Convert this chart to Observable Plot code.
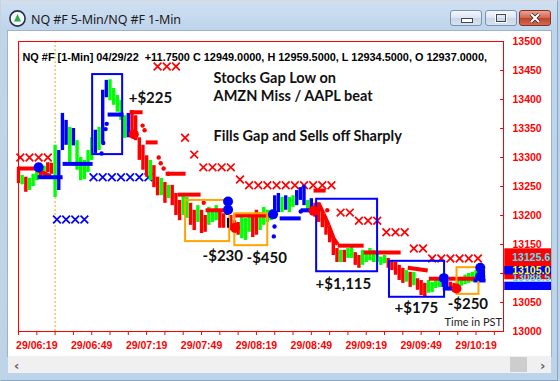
<!DOCTYPE html>
<html>
<head>
<meta charset="utf-8">
<script src="https://cdn.jsdelivr.net/npm/d3@7"></script>
<script src="https://cdn.jsdelivr.net/npm/@observablehq/plot@0.6"></script>
<style>
  html,body{margin:0;padding:0;}
  body{width:560px;height:381px;overflow:hidden;position:relative;background:#bcd3ea;font-family:"Noto Sans",sans-serif;}
  #win{position:absolute;left:0;top:0;width:556px;height:379px;background:linear-gradient(#cfdff1,#bfd5ec 28px,#bcd3ea);border:1px solid #8aa4c0;border-top-color:#d9d9d9;border-left-color:#c8d2dc;}
  #title{position:absolute;left:31px;top:11px;font-size:12.5px;color:#1b1b1b;letter-spacing:-0.1px;}
  .btn{position:absolute;top:10px;height:14px;border:1px solid #7a93ae;border-radius:3px;background:linear-gradient(#f2f6fb,#dbe5f1 50%,#c9d7e8 51%,#d6e2ef);box-sizing:content-box;}
  #content{position:absolute;left:8px;top:31px;width:543px;height:325px;background:#fff;outline:1px solid #9db3ca;}
  #scroll{position:absolute;left:8px;top:356px;width:543px;height:17px;background:#f0f0f0;}
  #thumb{position:absolute;left:502px;top:1px;width:17px;height:15px;background:#cdcdcd;}
</style>
</head>
<body>
<div id="win"></div>
<svg style="position:absolute;left:9px;top:10px" width="17" height="17" viewBox="0 0 17 17">
  <circle cx="8.5" cy="8.5" r="7.6" fill="#f4f6f8" stroke="#24324d" stroke-width="1.6"/>
  <path d="M8.5 4 L12 11.5 L5 11.5 Z" fill="#2fa84a"/>
</svg>
<div id="title">NQ #F 5-Min/NQ #F 1-Min</div>
<div class="btn" style="left:450px;width:30px;"><div style="position:absolute;left:10px;top:7px;width:10px;height:3px;background:#fff;border:1px solid #445;"></div></div>
<div class="btn" style="left:485px;width:30px;"><div style="position:absolute;left:10px;top:3px;width:8px;height:6px;border:1px solid #445;outline:1px solid #fff;"></div></div>
<div class="btn" style="left:519px;width:30px;border-color:#8b2f22;background:linear-gradient(#e9a394,#d2654f 50%,#c0432c 51%,#cf6a52);">
  <svg width="30" height="14" style="position:absolute;left:0;top:0"><path d="M11 3 L19 11 M19 3 L11 11" stroke="#3a1a14" stroke-width="3.6"/><path d="M11 3 L19 11 M19 3 L11 11" stroke="#fff" stroke-width="2.2"/></svg>
</div>
<div id="content"></div>
<div id="scroll">
  <div style="position:absolute;left:6px;top:2px;font:bold 13px 'DejaVu Sans';color:#606060;">&#8249;</div>
  <div id="thumb"></div>
  <div style="position:absolute;left:532px;top:2px;font:bold 13px 'DejaVu Sans';color:#606060;">&#8250;</div>
</div>
<div id="chart" style="position:absolute;left:8px;top:31px;"></div>
<script>
// ---------- data ----------
const header = "NQ #F [1-Min] 04/29/22  +11.7500 C 12949.0000, H 12959.5000, L 12934.5000, O 12937.0000,";
const xTicks = ["06:09","06:19","06:29","06:39","06:49","06:59","07:09","07:19","07:29","07:39","07:49","07:59","08:09","08:19","08:29","08:39","08:49","08:59","09:09","09:19","09:29","09:39","09:49","09:59","10:09","10:19","10:29"];
const xTickLabels = ["29/06:19","29/06:49","29/07:19","29/07:49","29/08:19","29/08:49","29/09:19","29/09:49","29/10:19"];
const yTicks = [13000,13050,13100,13150,13200,13250,13300,13350,13400,13450,13500];
const sessionOpen = "06:29";

const barTimes = ["06:09","06:11","06:13","06:15","06:17","06:19","06:21","06:23","06:25","06:27",
"06:29","06:31","06:33","06:35","06:37","06:39","06:41","06:43","06:45","06:47",
"06:49","06:51","06:53","06:55","06:57","06:59","07:01","07:03","07:05","07:07",
"07:09","07:11","07:13","07:15","07:17","07:19","07:21","07:23","07:25","07:27",
"07:29","07:31","07:33","07:35","07:37","07:39","07:41","07:43","07:45","07:47",
"07:49","07:51","07:53","07:55","07:57","07:59","08:01","08:03","08:05","08:07",
"08:09","08:11","08:13","08:15","08:17","08:19","08:21","08:23","08:25","08:27",
"08:29","08:31","08:33","08:35","08:37","08:39","08:41","08:43","08:45","08:47",
"08:49","08:51","08:53","08:55","08:57","08:59","09:01","09:03","09:05","09:07",
"09:09","09:11","09:13","09:15","09:17","09:19","09:21","09:23","09:25","09:27",
"09:29","09:31","09:33","09:35","09:37","09:39","09:41","09:43","09:45","09:47",
"09:49","09:51","09:53","09:55","09:57","09:59","10:01","10:03","10:05","10:07",
"10:09","10:11","10:13","10:15","10:17","10:19","10:21","10:23"];
const barLow = [13255,13253,13240,13243,13250,13260,13266,13267,13274,13271,
13231,13243,13312,13321,13286,13320,13278,13260,13262,13274,
13295,13307,13312,13324,13403,13398,13390,13378,13364,13333,
13334,13338,13329,13295,13278,13266,13260,13248,13234,13234,
13221,13229,13217,13200,13191,13200,13195,13183,13174,13188,
13169,13171,13183,13188,13191,13178,13178,13200,13174,13169,
13166,13160,13157,13171,13162,13166,13174,13183,13188,13191,
13200,13205,13205,13209,13205,13214,13217,13226,13217,13205,
13209,13197,13188,13179,13166,13153,13131,13119,13119,13119,
13126,13126,13114,13109,13114,13119,13122,13119,13119,13114,
13117,13109,13105,13097,13088,13083,13085,13076,13079,13071,
13062,13059,13066,13067,13074,13076,13076,13071,13071,13067,
13071,13078,13081,13083,13085,13088,13090,13088];
const barHigh = [13283,13269,13266,13264,13271,13278,13283,13285,13291,13290,
13321,13312,13376,13364,13352,13350,13329,13300,13295,13312,
13334,13347,13352,13416,13433,13434,13419,13407,13398,13372,
13376,13381,13372,13334,13321,13303,13295,13286,13266,13264,
13257,13252,13252,13238,13226,13234,13231,13221,13209,13217,
13209,13200,13214,13209,13217,13209,13203,13229,13200,13191,
13188,13200,13195,13203,13200,13209,13205,13214,13209,13209,
13234,13238,13231,13234,13231,13234,13243,13248,13252,13226,
13229,13221,13222,13205,13191,13178,13160,13143,13140,13140,
13143,13148,13136,13131,13140,13136,13143,13140,13136,13128,
13131,13126,13122,13119,13114,13109,13105,13102,13102,13091,
13088,13083,13088,13085,13091,13093,13093,13088,13085,13083,
13088,13093,13097,13100,13102,13105,13110,13105];
// r = down bar, g = up bar, b = blue-painted bar
const barState = ("rgrgggrgrr"+"gbbbgbgggg"+"gbgbbggggg"+"brrrrrgrrg"+"rgrrrggrrg"+
  "rrgggrrbrr"+"rgggrrgggg"+"bbgbggbbbg"+"brrrrrrrgr"+"ggrrgggggg"+
  "grrrrrgrgr"+"rrggggbbrr"+"ggggggbb").split("");

// trailing stop (red) segments: start/end minute of day and price
const redSegT1 = [368.5,379.4,429.7,438.5,449.4,456.0,471.2,486.5,530.2,533.0,535.7,538.5,541.2,543.4,557.6,581.7,593.2,604.1];
const redSegT2 = [379.4,386.5,436.8,445.0,460.3,468.5,483.8,508.4,536.8,535.7,538.5,541.2,543.4,557.6,577.8,592.6,601.4,619.9];
const redSegP1 = [13281,13278,13378,13326,13272,13236,13209,13200,13243,13221,13203,13183,13160,13148,13136,13110,13091,13091];
const redSegP2 = [13281,13268,13378,13326,13272,13236,13209,13200,13243,13203,13183,13160,13150,13148,13136,13105,13091,13091];
const redDotT = [436.8,437.9,445.6,446.7,448.3,451.0,470.2,537.7];
const redDotP = [13355,13347,13300,13290,13281,13272,13222,13209];
// trailing stop (blue) segments
const blueSegT1 = [379.4,393.1,417.7,511.7,523.2,600.8,617.6];
const blueSegT2 = [393.1,409.5,426.4,523.2,530.3,607.9,624.2];
const blueSegP  = [13266,13289,13374,13195,13209,13074,13088];
const blueDotT = [414.4,415.3,416.6,417.2,508.5,508.9,523.2];
const blueDotP = [13307,13325,13349,13358,13164,13181,13207];
// 5-min markers
const redXTime = [370,375,380,385,445,450,455,460,465,470,475,480,485,490,495,500,505,510,515,520,525,530,535,540,545,550,555,560,565,570,575,580,585,590,595,600,605,610,615,620];
const redXPrice = [13300,13300,13300,13300,13457,13457,13457,13334,13305,13283,13283,13283,13283,13262,13252,13252,13252,13252,13252,13252,13252,13252,13252,13252,13205,13205,13191,13191,13191,13171,13171,13171,13143,13143,13126,13126,13126,13126,13126,13126];
const blueXTime = [390,395,400,405,410,415,420,425,430,435,440];
const blueXPrice = [13193,13193,13193,13193,13266,13266,13266,13266,13266,13266,13266];
// trade entries / exits
const buyT = [380,483.5,483.5,508.1,601.4,621.3,621.3];
const buyP = [13283,13224,13210,13202,13092,13110,13095];
const sellT = [432,487.3,530.2,608.3];
const sellP = [13340,13179,13208,13074];
const markT = [483.5,621.3];
const markLo = [13178,13088];
const markHi = [13195,13114];
// trade boxes
const boxT1 = [460.3,487.2,608.6,409.5,531.9,571.7];
const boxT2 = [484.4,505.2,620.6,425.9,565.2,601.8];
const boxTop = [13226,13203,13110,13443,13228,13121];
const boxBottom = [13155,13148,13064,13305,13103,13059];
const boxResult = ["loss","loss","loss","win","win","win"];
// P&L labels
const pnlText = ["+$225","-$230","-$450","+$1,115","+$175","-$250"];
const pnlT = [429.2,469.6,493.6,531.3,574.5,603.5];
const pnlP = [13403,13130,13127,13081,13040,13047];
const noteText = ["Stocks Gap Low on","AMZN Miss / AAPL beat","Fills Gap and Sells off Sharply"];
const noteT = [475.6,475.6,475.6];
const noteP = [13436,13405,13336];
const footText = "Time in PST";
const footT = 601.8, footP = 13016;
// last-price tags on the axis
const tagValue = [13125.6,13088.5,13105.0,13077.0];
const tagText = ["13125.6","13088.5","13105.0",""];

// ---------- build ----------
const T = s => { const [h,m] = s.split(":").map(Number); return h*60+m; };
const bars = barTimes.map((s,i)=>({t:T(s), lo:barLow[i], hi:barHigh[i], s:barState[i]}));
const barColor = {r:"#ff0000", g:"#00ff00", b:"#0000ff"};
const redSegs = redSegT1.map((t,i)=>({t1:t,t2:redSegT2[i],p1:redSegP1[i],p2:redSegP2[i]}));
const blueSegs = blueSegT1.map((t,i)=>({t1:t,t2:blueSegT2[i],p:blueSegP[i]}));
const boxes = boxT1.map((t,i)=>({t1:t,t2:boxT2[i],top:boxTop[i],bot:boxBottom[i],r:boxResult[i]}));
const labelByTime = new Map(xTickLabels.map(l=>[T(l.slice(3)), l]));
const X0 = 634.7, X1 = 680, XT = 638.8; // tag column (beyond the frame)
const tags = [
  {v:tagValue[0], y1:tagValue[0]+17, y2:tagValue[0]-13.5, ty:tagValue[0]+1, fill:"#ff0000", col:"#40e8ff", txt:tagText[0]},
  {v:tagValue[1], y1:tagValue[1]+23.6, y2:tagValue[1]+0.7, ty:tagValue[1]+4.6, fill:"#ff0000", col:"#40e8ff", txt:tagText[1]},
  {v:tagValue[2], y1:tagValue[2]+7.1, y2:tagValue[2]-7.4, ty:tagValue[2]-0.7, fill:"#0000ff", col:"#ffff00", txt:tagText[2]},
  {v:tagValue[3], y1:tagValue[3]+8, y2:tagValue[3]-6.3, ty:tagValue[3], fill:"#0000ff", col:"#ffff00", txt:tagText[3]}
];
const calib = "Lato, 'Open Sans', sans-serif";

const chart = Plot.plot({
  width: 543, height: 325,
  marginLeft: 10, marginRight: 48, marginTop: 10, marginBottom: 25,
  style: {background:"white", color:"#ff0000", fontFamily:"'Liberation Sans', Arial, sans-serif", fontWeight:"bold", fontSize:"10.5px"},
  x: {domain:[369, 634], ticks: xTicks.map(T), tickFormat: t => labelByTime.get(t) || "", tickSize: 4, tickPadding: 6, label: null},
  y: {domain:[13000, 13500], axis: "right", ticks: yTicks, tickFormat: d => String(d), tickSize: 0, tickPadding: 9, label: null},
  marks: [
    Plot.ruleX([T(sessionOpen)], {stroke:"#ffa500", strokeWidth:1, strokeDasharray:"2,2"}),
    Plot.dot(redXTime.map((t,i)=>({t,p:redXPrice[i]})), {x:"t", y:"p", symbol:"times", r:3.6, stroke:"#ff0000", strokeWidth:1.7}),
    Plot.dot(blueXTime.map((t,i)=>({t,p:blueXPrice[i]})), {x:"t", y:"p", symbol:"times", r:3.6, stroke:"#0000ff", strokeWidth:1.7}),
    Plot.ruleX(bars, {x:"t", y1:"lo", y2:"hi", stroke: d => barColor[d.s], strokeWidth:3.4}),
    Plot.link(redSegs, {x1:"t1", x2:"t2", y1:"p1", y2:"p2", stroke:"#ff0000", strokeWidth:4}),
    Plot.dot(redDotT.map((t,i)=>({t,p:redDotP[i]})), {x:"t", y:"p", r:2.2, fill:"#ff0000"}),
    Plot.link(blueSegs, {x1:"t1", x2:"t2", y1:"p", y2:"p", stroke:"#0000ff", strokeWidth:4}),
    Plot.dot(blueDotT.map((t,i)=>({t,p:blueDotP[i]})), {x:"t", y:"p", r:2.2, fill:"#0000ff"}),
    Plot.rect(boxes, {x1:"t1", x2:"t2", y1:"bot", y2:"top", fill:"none", stroke: d => d.r === "win" ? "#0000ff" : "#ffa500", strokeWidth:2}),
    Plot.ruleX(markT.map((t,i)=>({t,lo:markLo[i],hi:markHi[i]})), {x:"t", y1:"lo", y2:"hi", stroke:"#000", strokeWidth:2}),
    Plot.dot(buyT.map((t,i)=>({t,p:buyP[i]})), {x:"t", y:"p", r:5, fill:"#0000ff"}),
    Plot.dot(sellT.map((t,i)=>({t,p:sellP[i]})), {x:"t", y:"p", r:5, fill:"#ff0000"}),
    Plot.text([header], {frameAnchor:"top-left", dx:4, dy:11.5, text: d => d, textAnchor:"start", fill:"#000", fontWeight:"bold", fontSize:10.9}),
    Plot.text(noteText.map((s,i)=>({s,t:noteT[i],p:noteP[i]})), {x:"t", y:"p", text:"s", textAnchor:"start", fill:"#111", fontFamily:calib, fontWeight:"bold", fontSize:14.5}),
    Plot.text(pnlText.map((s,i)=>({s,t:pnlT[i],p:pnlP[i]})), {x:"t", y:"p", text:"s", textAnchor:"start", fill:"#111", fontFamily:calib, fontWeight:"bold", fontSize:15}),
    Plot.text([footText], {x:footT, y:footP, text: d => d, textAnchor:"start", fill:"#222", fontFamily:calib, fontWeight:"normal", fontSize:11}),
    Plot.rect(tags.slice(0,2), {x1:X0, x2:X1, y1:"y2", y2:"y1", fill:"fill"}),
    Plot.text(tags.slice(0,2), {x:XT, y:"ty", text:"txt", textAnchor:"start", fill:"col", fontWeight:"bold", fontSize:10.5}),
    Plot.rect(tags.slice(2), {x1:X0, x2:X1, y1:"y2", y2:"y1", fill:"fill"}),
    Plot.text(tags.slice(2), {x:XT, y:"ty", text:"txt", textAnchor:"start", fill:"col", fontWeight:"bold", fontSize:10.5}),
    Plot.ruleY(yTicks, {x1:632.4, x2:634, stroke:"#ff0000"}),
    Plot.frame({stroke:"#ff0000"})
  ]
});
document.getElementById("chart").appendChild(chart);
</script>
</body>
</html>
